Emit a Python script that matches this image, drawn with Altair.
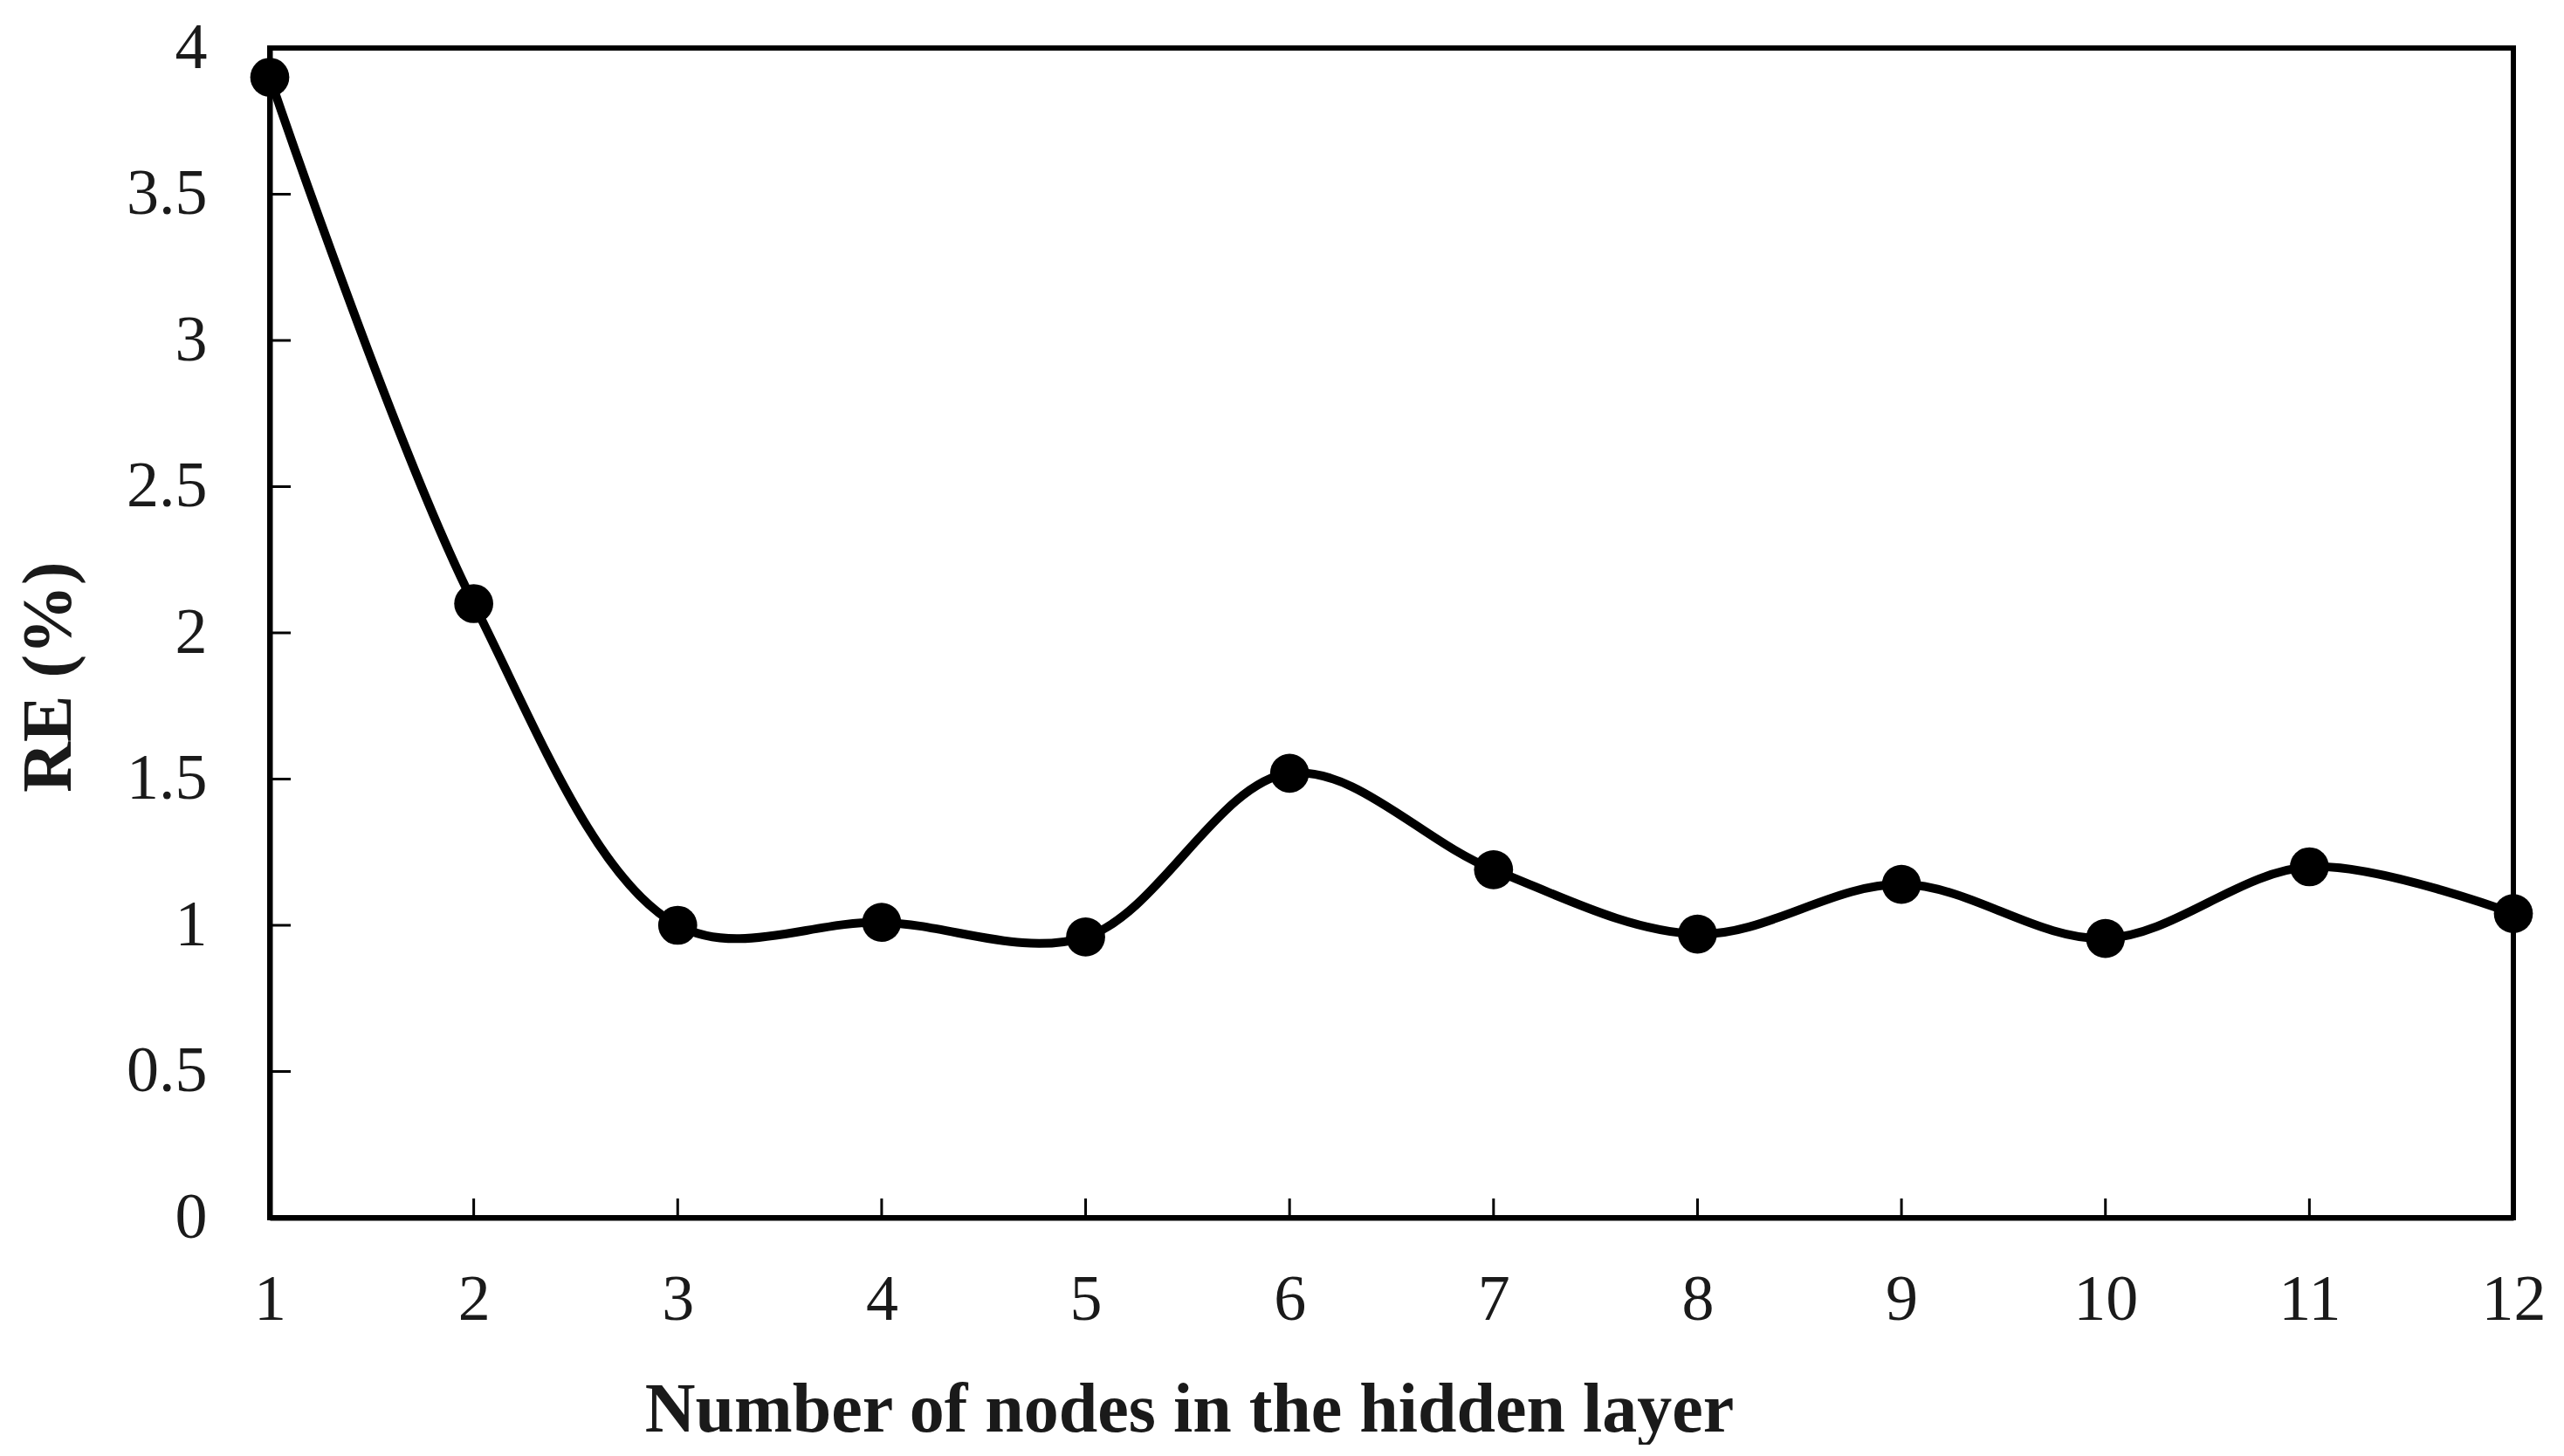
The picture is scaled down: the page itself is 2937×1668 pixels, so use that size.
import altair as alt
import pandas as pd

# Data
nodes = [1, 2, 3, 4, 5, 6, 7, 8, 9, 10, 11, 12]
re_values = [3.9, 2.1, 1.0, 1.01, 0.96, 1.52, 1.19, 0.97, 1.14, 0.955, 1.2, 1.04]
x_ticks = [1, 2, 3, 4, 5, 6, 7, 8, 9, 10, 11, 12]
x_inner_ticks = [2, 3, 4, 5, 6, 7, 8, 9, 10, 11]
y_ticks = [0, 0.5, 1, 1.5, 2, 2.5, 3, 3.5, 4]
y_inner_ticks = [0.5, 1, 1.5, 2, 2.5, 3, 3.5]

W, H = 2570, 1340
FONT = "Liberation Serif"

df = pd.DataFrame({"nodes": nodes, "re": re_values})
xt = pd.DataFrame({"t": x_inner_ticks})
yt = pd.DataFrame({"t": y_inner_ticks})

xscale = alt.Scale(domain=[1, 12], nice=False, zero=False)
yscale = alt.Scale(domain=[0, 4], nice=False)

xaxis = alt.Axis(values=x_ticks, ticks=False, grid=False, domainColor="black",
                 domainWidth=6, labelFont=FONT, labelFontSize=74, labelColor="#1a1a1a",
                 labelPadding=58, title="Number of nodes in the hidden layer",
                 titleFont=FONT, titleFontSize=80, titleFontWeight="bold",
                 titleColor="#1a1a1a", titleX=1053, titleY=244,
                 titleAlign="center", titleBaseline="alphabetic", labelFlush=False,
                 format="d")
yaxis = alt.Axis(values=y_ticks, ticks=False, grid=False, domainColor="black",
                 domainWidth=6, labelFont=FONT, labelFontSize=74, labelColor="#1a1a1a",
                 labelPadding=72, title="RE (%)", titleFont=FONT, titleFontSize=80,
                 titleFontWeight="bold", titleColor="#1a1a1a", titleAngle=270,
                 titleX=-253, titleY=720, titleAlign="center", titleBaseline="middle",
                 labelFlush=False, format="~g")

line = alt.Chart(df).mark_line(interpolate="catmull-rom", strokeWidth=10, color="black").encode(
    x=alt.X("nodes:Q", scale=xscale, axis=xaxis),
    y=alt.Y("re:Q", scale=yscale, axis=yaxis),
)
points = alt.Chart(df).mark_circle(size=2000, opacity=1, color="black").encode(
    x=alt.X("nodes:Q", scale=xscale),
    y=alt.Y("re:Q", scale=yscale),
)
xticks = alt.Chart(xt).mark_rule(color="black", strokeWidth=3).encode(
    x=alt.X("t:Q", scale=xscale),
    y=alt.value(H),
    y2=alt.value(H - 22),
)
yticks = alt.Chart(yt).mark_rule(color="black", strokeWidth=3).encode(
    y=alt.Y("t:Q", scale=yscale),
    x=alt.value(0),
    x2=alt.value(24),
)

chart = alt.layer(line, xticks, yticks, points).properties(
    width=W, height=H,
    autosize=alt.AutoSizeParams(type="none"),
    padding={"left": 301, "top": 47, "right": 50, "bottom": 260},
    background="white",
).configure_view(stroke="black", strokeWidth=6)

chart.save("out.html", embed_options={"renderer": "svg", "actions": False})
